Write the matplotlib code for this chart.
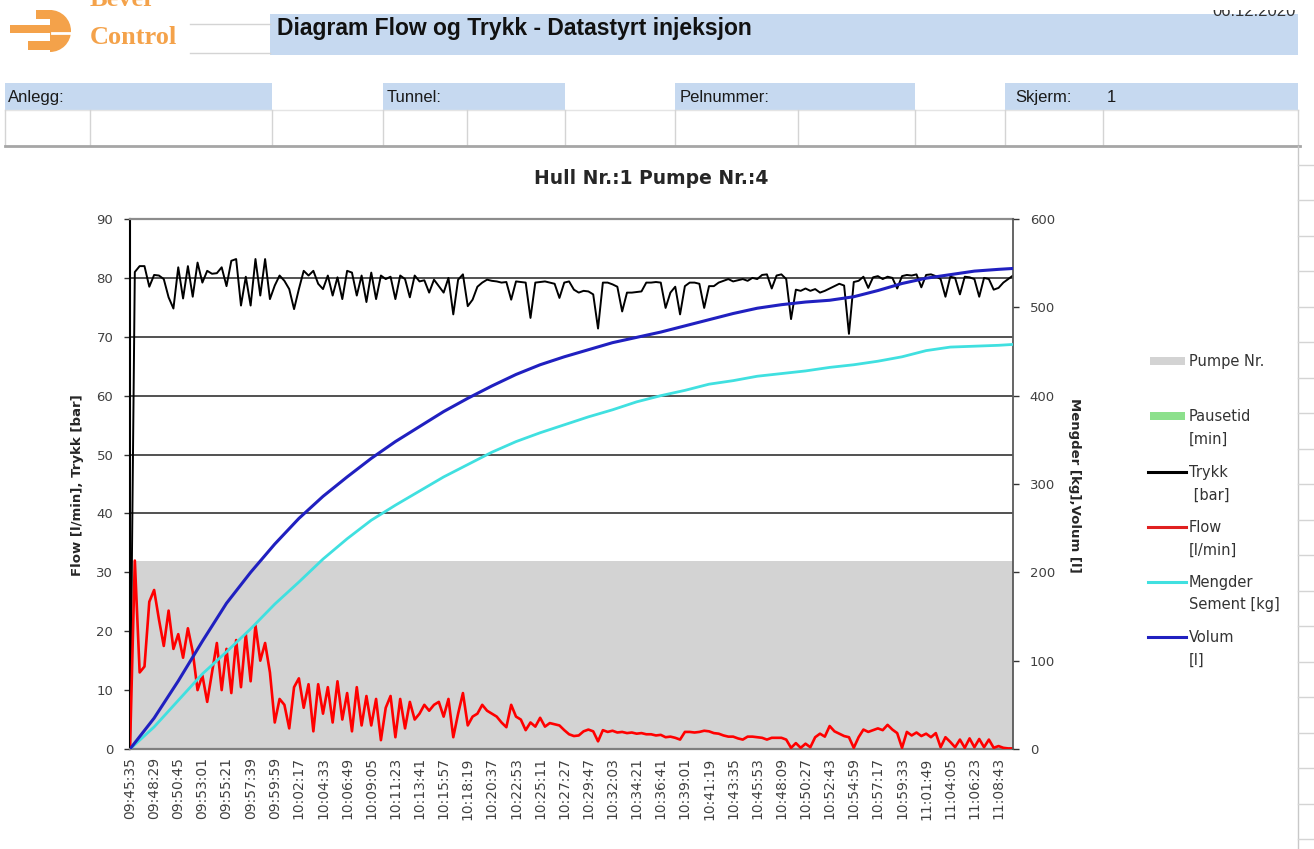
import matplotlib
matplotlib.use("Agg")
import matplotlib.pyplot as plt
from matplotlib.patches import Rectangle, Wedge
import numpy as np

# ---------------- data ----------------
time_labels = ["09:45:35", "09:48:29", "09:50:45", "09:53:01", "09:55:21", "09:57:39",
               "09:59:59", "10:02:17", "10:04:33", "10:06:49", "10:09:05", "10:11:23",
               "10:13:41", "10:15:57", "10:18:19", "10:20:37", "10:22:53", "10:25:11",
               "10:27:27", "10:29:47", "10:32:03", "10:34:21", "10:36:41", "10:39:01",
               "10:41:19", "10:43:35", "10:45:53", "10:48:09", "10:50:27", "10:52:43",
               "10:54:59", "10:57:17", "10:59:33", "11:01:49", "11:04:05", "11:06:23",
               "11:08:43"]
samples_per_label = 5

trykk = [0, 81, 82, 82, 78.5, 80.5, 80.4, 79.8, 76.7, 74.8,
         81.8, 76.5, 82, 76.8, 82.6, 79.2, 81.2, 80.7, 80.8, 81.8,
         78.6, 82.9, 83.2, 75.3, 80.2, 75.3, 83.2, 77, 83.2, 76.4,
         78.7, 80.4, 79.5, 78.1, 74.7, 78.1, 81.2, 80.4, 81.2, 79,
         78.1, 80.4, 77, 80.1, 76.4, 81.2, 80.9, 77, 80.4, 75.9,
         80.9, 76.4, 80.4, 79.8, 80.2, 76.4, 80.4, 79.8, 76.7, 80.4,
         79.4, 79.6, 77.5, 79.7, 78.6, 77.5, 80, 73.8, 79.7, 80.6,
         75.2, 76.3, 78.5, 79.2, 79.7, 79.5, 79.4, 79.2, 79.3, 76.3,
         79.4, 79.3, 79.2, 73.2, 79.2, 79.3, 79.4, 79.2, 79, 76.6,
         79.2, 79.4, 78, 77.5, 77.8, 77.7, 77.2, 71.4, 79.2, 79.2,
         78.9, 78.5, 74.3, 77.5, 77.5, 77.6, 77.7, 79.2, 79.2, 79.3,
         79.2, 74.9, 77.5, 78.5, 73.8, 78.6, 79.2, 79.2, 79, 74.9,
         78.6, 78.6, 79.2, 79.5, 79.8, 79.4, 79.6, 79.8, 79.5, 80,
         79.8, 80.5, 80.6, 78.2, 80.4, 80.6, 79.8, 73, 78, 77.8,
         78.2, 77.8, 78.1, 77.5, 77.8, 78.2, 78.6, 79, 78.7, 70.5,
         79.3, 79.5, 80.2, 78.3, 80.1, 80.3, 79.8, 80.2, 80, 78.2,
         80.3, 80.5, 80.4, 80.6, 78.4, 80.5, 80.6, 80.3, 79.8, 76.8,
         80.2, 80, 77.2, 80.2, 80.1, 79.8, 76.8, 80, 79.8, 78,
         78.3, 79.2, 79.8, 80.4]

flow = [0, 32, 13, 14, 25, 27, 22, 17.5, 23.5, 17,
        19.5, 15.5, 20.5, 16.5, 10, 12.5, 8, 13, 18, 10,
        17, 9.5, 18.5, 10.5, 19.5, 11.5, 21, 15, 18, 13,
        4.5, 8.5, 7.5, 3.5, 10.5, 12, 7, 11, 3, 11,
        6, 10.5, 4.5, 11.5, 5, 9.5, 3, 10.5, 4, 9,
        4, 8.5, 1.5, 7, 9, 2, 8.5, 3.5, 8, 5,
        6, 7.5, 6.5, 7.5, 8, 5.5, 8.5, 2, 6, 9.5,
        4, 5.5, 6, 7.5, 6.5, 6, 5.5, 4.5, 3.7, 7.5,
        5.5, 5, 3.2, 4.5, 3.8, 5.3, 3.8, 4.4, 4.2, 4,
        3.2, 2.5, 2.2, 2.3, 3, 3.3, 3.0, 1.3, 3.2, 2.9,
        3.1, 2.8, 2.9, 2.7, 2.8, 2.6, 2.7, 2.5, 2.5, 2.3,
        2.4, 2.0, 2.1, 1.9, 1.6, 2.9, 2.9, 2.8, 2.9, 3.1,
        3.0, 2.7, 2.6, 2.3, 2.1, 2.1, 1.8, 1.6, 2.1, 2.1,
        2.0, 1.9, 1.6, 1.9, 1.9, 1.9, 1.6, 0.2, 1.0, 0.2,
        0.9, 0.3, 2.0, 2.6, 2.1, 3.9, 3.0, 2.6, 2.2, 2.0,
        0.2, 2.0, 3.3, 2.9, 3.2, 3.5, 3.2, 4.1, 3.3, 2.7,
        0.2, 2.9, 2.3, 2.8, 2.2, 2.6, 2.0, 2.7, 0.3, 2.0,
        1.2, 0.3, 1.6, 0.2, 1.8, 0.3, 1.7, 0.3, 1.6, 0.2,
        0.5, 0.2, 0.1, 0.1]

# cumulative series, read at every labelled sample plus the last sample
cum_idx = list(range(0, 184, 5)) + [183]
volum = [0, 35, 77, 122, 165, 200, 232, 261, 286, 308,
         329, 348, 365, 382, 397, 411, 424, 435, 444, 452,
         460, 466, 472, 479, 486, 493, 499, 503, 506, 508,
         512, 519, 527, 533, 537, 541, 543, 544]
mengder = [0, 25, 55, 85, 110, 136, 164, 189, 215, 238,
           259, 276, 292, 308, 322, 336, 348, 358, 367, 376,
           384, 393, 400, 406, 413, 417, 422, 425, 428, 432,
           435, 439, 444, 451, 455, 456, 457, 458]
pumpe_level = 32

x = np.arange(len(trykk)) / samples_per_label
cx = np.array(cum_idx) / samples_per_label

# ---------------- figure ----------------
W, H = 1314, 849
fig = plt.figure(figsize=(W / 100, H / 100), dpi=100)
fig.patch.set_facecolor('white')

bg = fig.add_axes([0, 0, 1, 1])
bg.set_xlim(0, W)
bg.set_ylim(H, 0)
bg.axis('off')

HEAD_BLUE = '#C6D9F0'
ORANGE = '#F4A24A'
GRIDC = '#D4D4D4'

# logo
bg.add_patch(Wedge((50, 31), 21, -90, 90, fc=ORANGE, ec='none'))
bg.add_patch(Rectangle((36, 10), 16, 9, fc=ORANGE, ec='none'))
bg.add_patch(Rectangle((10, 25), 44, 8, fc=ORANGE, ec='none'))
bg.add_patch(Rectangle((28, 41), 24, 9, fc=ORANGE, ec='none'))
bg.plot([52, 71], [33, 33], color='white', lw=2)
bg.text(90, 11, 'Bever', color=ORANGE, fontsize=19, fontweight='bold',
        family='Liberation Serif', va='bottom', ha='left')
bg.text(90, 37, 'Control', color=ORANGE, fontsize=19, fontweight='bold',
        family='Liberation Serif', va='center', ha='left')

# faint cell borders near logo
bg.plot([190, 270], [24, 24], color=GRIDC, lw=1)
bg.plot([190, 270], [53, 53], color=GRIDC, lw=1)

# title cell
bg.add_patch(Rectangle((270, 14), 1028, 41, fc=HEAD_BLUE, ec='none'))
bg.text(277, 28, 'Diagram Flow og Trykk - Datastyrt injeksjon', fontsize=16.5,
        fontweight='bold', family='Liberation Sans', va='center', ha='left', color='#111111')
bg.text(1296, 19, '06.12.2020', fontsize=12, family='Liberation Sans',
        va='bottom', ha='right', color='#333333')
bg.add_patch(Rectangle((1150, -2), 170, 12, fc='white', ec='none', zorder=5))

# info row
blue_cells = [(5, 272), (383, 565), (675, 915), (1005, 1298)]
for a, b in blue_cells:
    bg.add_patch(Rectangle((a, 83), b - a, 27, fc=HEAD_BLUE, ec='none'))
row_texts = [(8, 'Anlegg:'), (387, 'Tunnel:'), (680, 'Pelnummer:'), (1015, 'Skjerm:'), (1107, '1')]
for tx, t in row_texts:
    bg.text(tx, 97, t, fontsize=12, family='Liberation Sans', va='center', ha='left',
            color='#1a1a1a')

# empty row with cell borders
bg.plot([5, 1298], [110, 110], color='#E4E4E4', lw=1)
for gx in [5, 90, 272, 383, 467, 565, 675, 798, 915, 1005, 1103, 1298]:
    bg.plot([gx, gx], [110, 145], color=GRIDC, lw=1)
bg.plot([5, 1300], [146, 146], color='#A6A6A6', lw=2)

# spreadsheet grid at right
bg.plot([1298, 1298], [146, H], color='#C8C8C8', lw=1)
for gy in [165, 200, 236, 271, 307, 342, 378, 413, 449, 484, 520, 555, 591,
           626, 662, 697, 733, 768, 804, 839]:
    bg.plot([1298, W], [gy, gy], color=GRIDC, lw=1)

# chart title and axis titles
bg.text(651, 178, 'Hull Nr.:1 Pumpe Nr.:4', fontsize=13.5, fontweight='bold',
        ha='center', va='center', color='#262626')
bg.text(78, 485, 'Flow [l/min], Trykk [bar]', fontsize=9.5, rotation=90,
        ha='center', va='center', color='#262626', fontweight='bold')
bg.text(1075, 485, 'Mengder [kg],Volum [l]', fontsize=9.5, rotation=270,
        ha='center', va='center', color='#262626', fontweight='bold')

# legend
LEG_TXT = dict(fontsize=10.5, ha='left', va='center', color='#333333')
bg.add_patch(Rectangle((1150, 357), 35, 8, fc='#D3D3D3', ec='none'))
bg.text(1189, 361, 'Pumpe Nr.', **LEG_TXT)
bg.add_patch(Rectangle((1150, 412), 35, 8, fc='#8CE08C', ec='none'))
bg.text(1189, 416, 'Pausetid', **LEG_TXT)
bg.text(1189, 439, '[min]', **LEG_TXT)
legend_lines = [(472, 'black', 'Trykk', ' [bar]'),
                (527, '#E02020', 'Flow', '[l/min]'),
                (582, '#40E0E0', 'Mengder', 'Sement [kg]'),
                (637, '#2020C0', 'Volum', '[l]')]
for ly, c, t1, t2 in legend_lines:
    bg.plot([1148, 1186], [ly, ly], color=c, lw=2.2)
    bg.text(1189, ly, t1, **LEG_TXT)
    bg.text(1189, ly + 23, t2, **LEG_TXT)

# ---------------- main chart ----------------
ax = fig.add_axes([130 / W, 1 - 749 / H, (1013 - 130) / W, (749 - 219) / H])
ax.patch.set_alpha(0)
ax2 = ax.twinx()

ax.fill_between([x[0], x[-1]], 0, pumpe_level, color='#D3D3D3', lw=0, zorder=1)
ax.set_axisbelow(True)
ax.yaxis.grid(True, color='#333333', lw=1.2, zorder=0)

ax.plot(x, trykk, color='black', lw=1.4, zorder=3)
ax.plot(x, flow, color='#FF0000', lw=1.9, zorder=4)
ax2.plot(cx, mengder, color='#40E0E0', lw=2.0, zorder=3)
ax2.plot(cx, volum, color='#2020C0', lw=2.2, zorder=4)

ax.set_xlim(0, x[-1])
ax.set_ylim(0, 90)
ax.set_yticks(np.arange(0, 91, 10))
ax2.set_ylim(0, 600)
ax2.set_yticks(np.arange(0, 601, 100))

ax.set_xticks(np.arange(len(time_labels)))
ax.set_xticklabels(time_labels, rotation=90, fontsize=10, color='#404040')
ax.tick_params(axis='x', length=0, pad=6)
ax.tick_params(axis='y', length=4, width=1, pad=8, labelsize=9.5, labelcolor='#404040',
               color='#333333')
ax2.tick_params(axis='y', length=4, width=1, pad=8, labelsize=9.5, labelcolor='#404040',
                color='#333333')

ax.spines['left'].set_color('black')
ax.spines['left'].set_linewidth(1.5)
ax.spines['bottom'].set_color('#7F7F7F')
ax.spines['bottom'].set_linewidth(1.6)
ax.spines['top'].set_color('#8C8C8C')
ax.spines['top'].set_linewidth(1.6)
ax.spines['right'].set_visible(False)
for s in ['left', 'top', 'bottom']:
    ax2.spines[s].set_visible(False)
ax2.spines['right'].set_color('#595959')
ax2.spines['right'].set_linewidth(1.3)

fig.savefig('out.png', dpi=100, facecolor='white')
